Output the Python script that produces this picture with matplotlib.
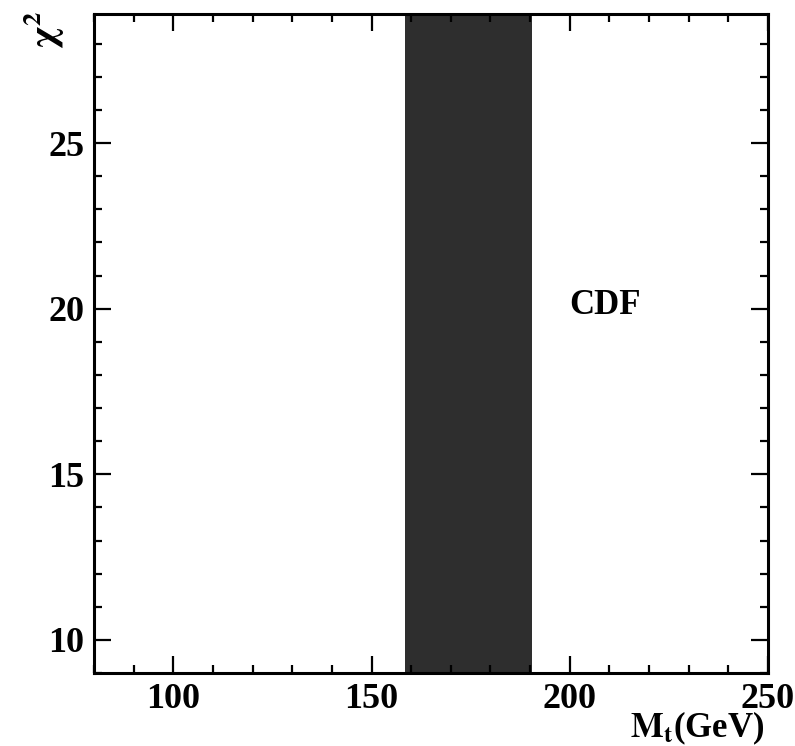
import numpy as np
import matplotlib.pyplot as plt
from matplotlib.ticker import MultipleLocator

# CDF allowed top-mass band (GeV)
band_low = 158.5
band_high = 190.5
label_name = "CDF"
label_pos = (199.8, 20.1)

x_limits = (80, 250)
y_limits = (9, 28.9)
x_major = [100, 150, 200, 250]
y_major = [10, 15, 20, 25]

plt.rcParams['font.family'] = ['Liberation Serif', 'DejaVu Serif']
plt.rcParams['mathtext.fontset'] = 'stix'

fig = plt.figure(figsize=(7.95, 7.46), dpi=100)
ax = fig.add_axes([94 / 795, 73 / 746, 674 / 795, 659 / 746])

ax.axvspan(band_low, band_high, color='#2e2e2e', lw=0)
ax.text(*label_pos, label_name, fontsize=25, fontweight='bold', ha='left', va='center')

ax.set_xlim(*x_limits)
ax.set_ylim(*y_limits)
ax.set_xticks(x_major)
ax.set_yticks(y_major)
ax.xaxis.set_minor_locator(MultipleLocator(10))
ax.yaxis.set_minor_locator(MultipleLocator(1))
ax.tick_params(which='both', direction='in', top=True, right=True,
               width=1.6, labelsize=26, pad=7)
ax.tick_params(which='major', length=12)
ax.tick_params(which='minor', length=6)
for lab in ax.get_xticklabels() + ax.get_yticklabels():
    lab.set_fontweight('bold')
for sp in ax.spines.values():
    sp.set_linewidth(2.2)

# axis titles placed like the original scan
fig.text(44 / 795, 1 - 30 / 746, r'$\mathbf{\chi^2}$', rotation=90,
         fontsize=27, ha='center', va='center')
fig.text(630 / 795, 1 - 737 / 746, r'$\mathbf{M_t}$' + '(GeV)', fontsize=25,
         fontweight='bold', ha='left', va='baseline')

fig.savefig('out.png', dpi=100)
